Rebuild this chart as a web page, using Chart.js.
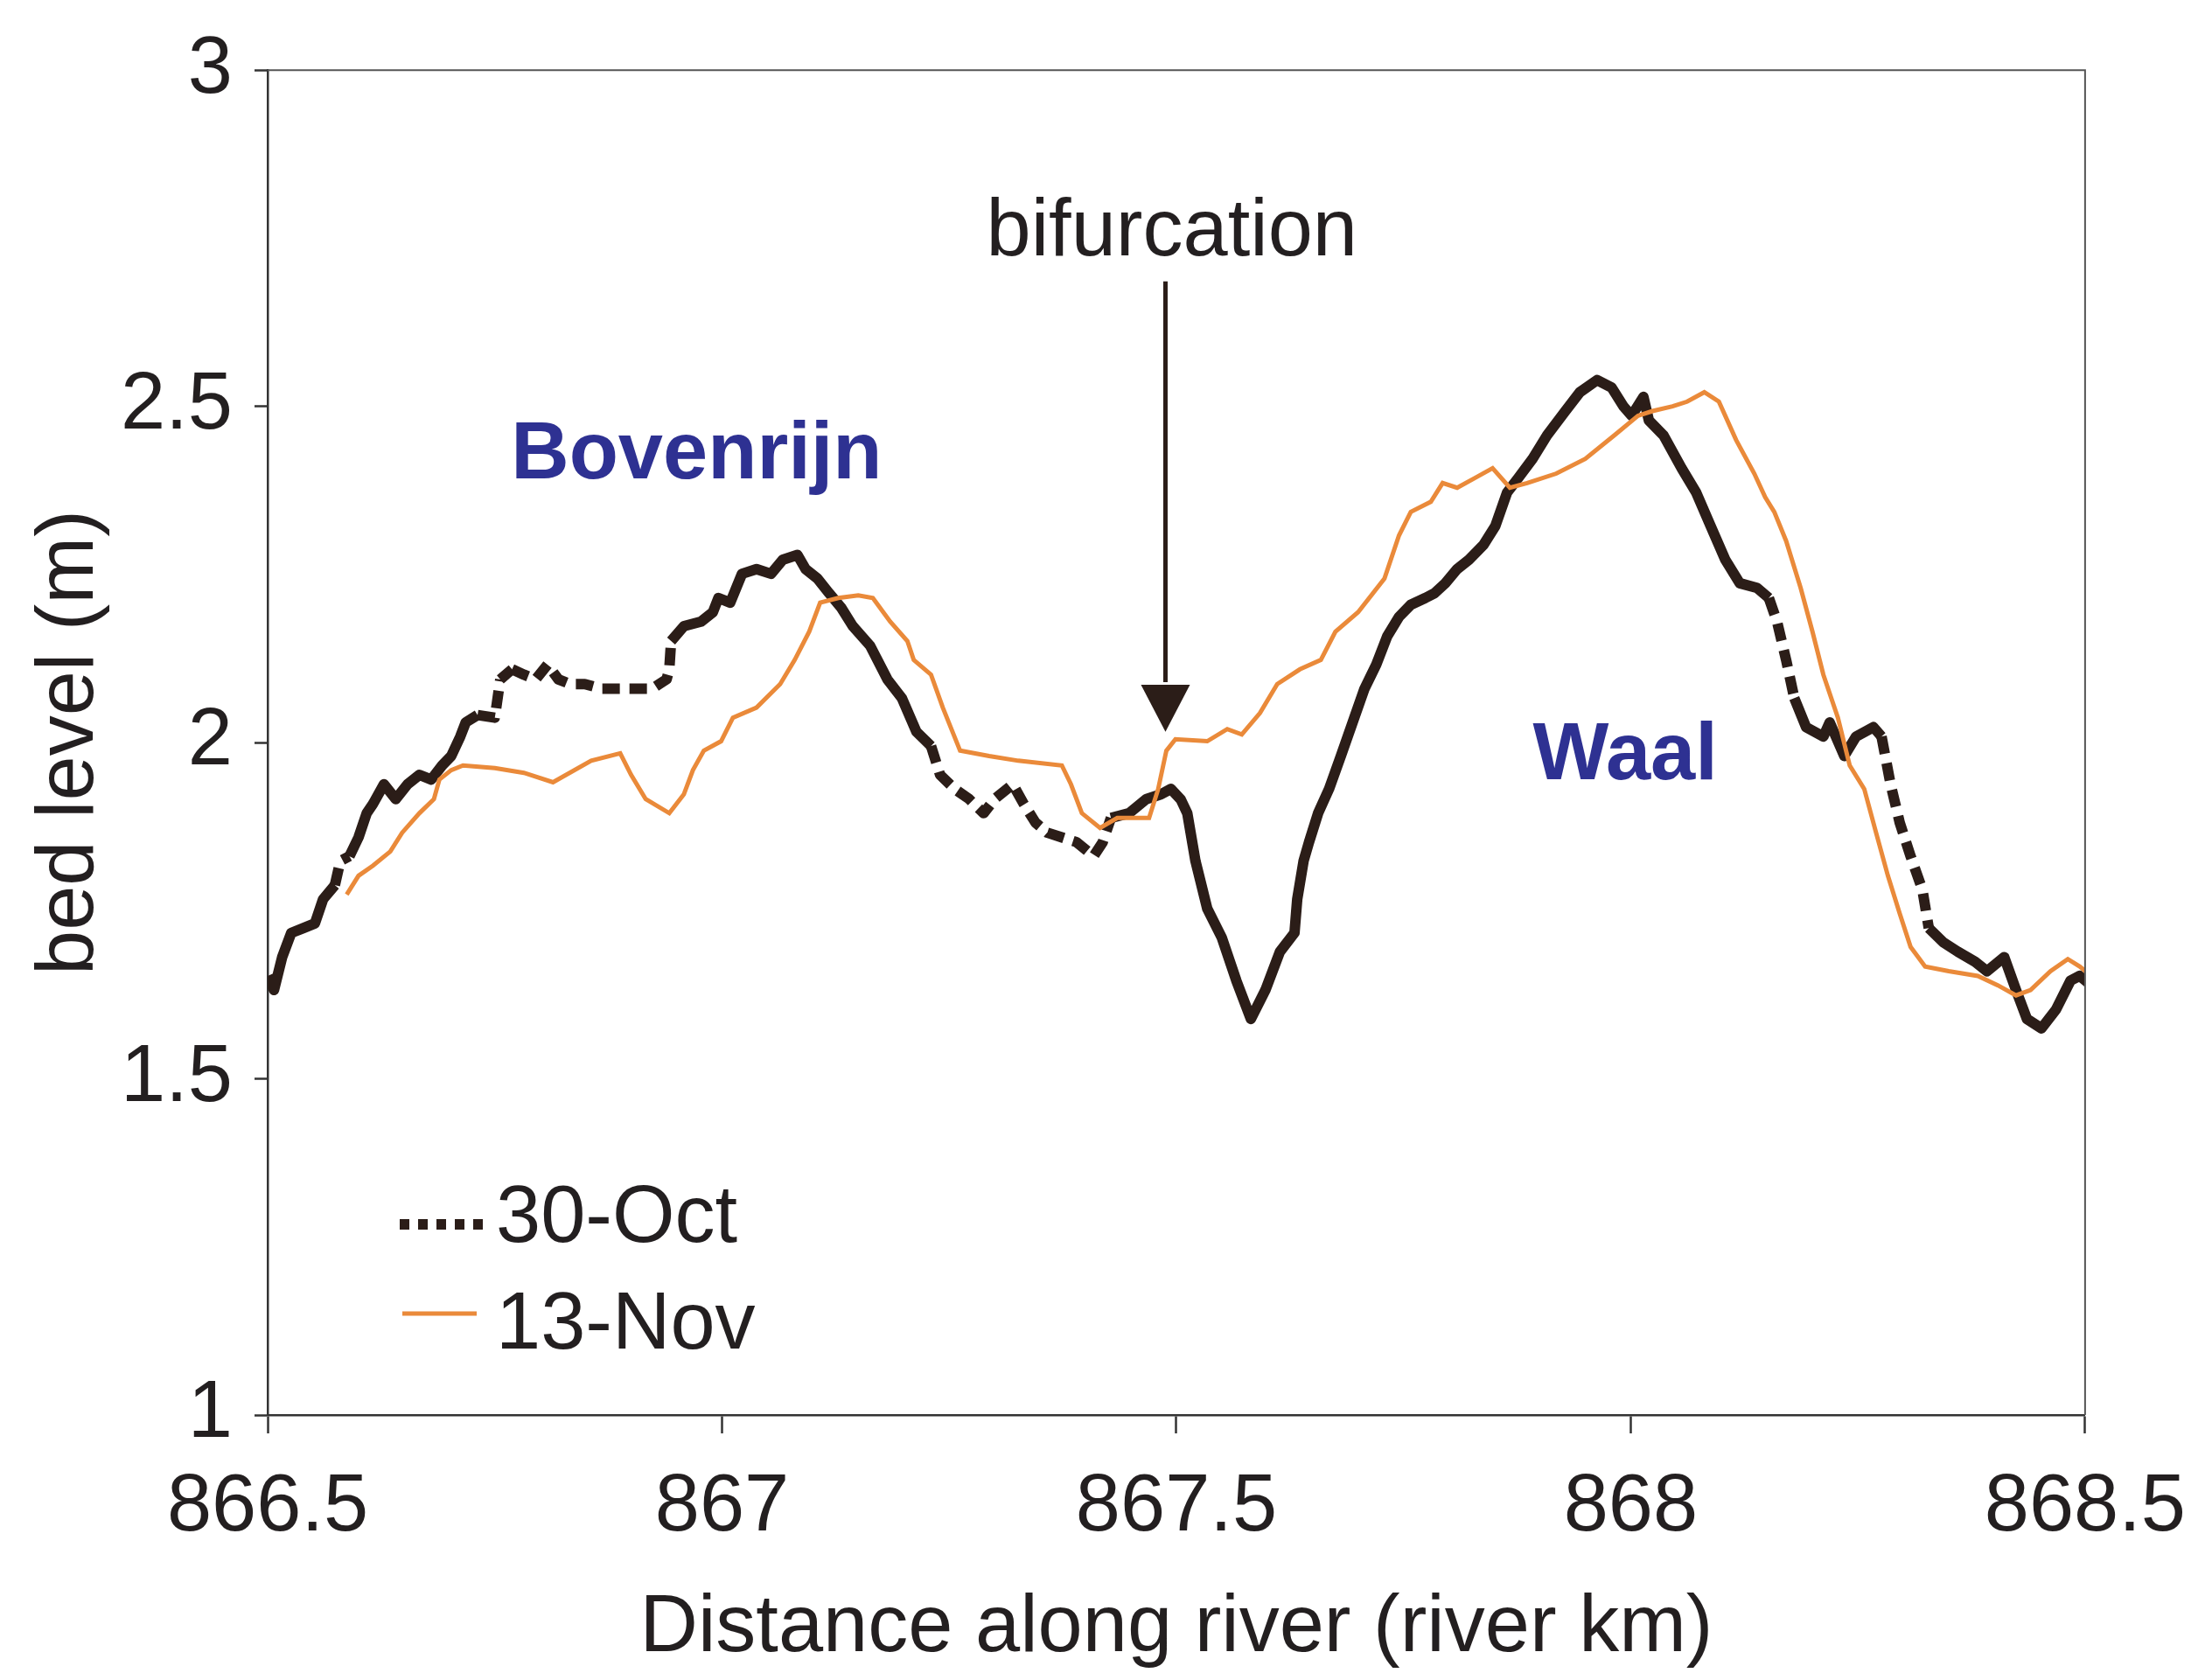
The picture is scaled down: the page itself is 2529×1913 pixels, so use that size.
<!DOCTYPE html>
<html>
<head>
<meta charset="utf-8">
<title>Bed level along the river</title>
<script src="https://cdn.jsdelivr.net/npm/chart.js@4.4.1/dist/chart.umd.min.js"></script>
<style>
  html, body { margin: 0; padding: 0; background: #fff; }
  #wrap { width: 2529px; height: 1913px; }
</style>
</head>
<body>
<div id="wrap"><canvas id="bedChart" width="2529" height="1913"></canvas></div>
<script>
// 30-Oct survey (river km, bed level in m)
const kmOct = [
    866.500, 866.507, 866.516, 866.526, 866.539, 866.552, 866.561, 866.574, 866.580, 866.590,
    866.600, 866.609, 866.616, 866.628, 866.641, 866.654, 866.667, 866.680, 866.692, 866.702,
    866.712, 866.718, 866.731, 866.750, 866.756, 866.769, 866.782, 866.795, 866.808, 866.820,
    866.833, 866.849, 866.868, 866.894, 866.923, 866.939, 866.942, 866.944, 866.958, 866.977,
    866.990, 866.996, 867.009, 867.022, 867.038, 867.054, 867.067, 867.083, 867.092, 867.105,
    867.118, 867.131, 867.144, 867.163, 867.182, 867.198, 867.214, 867.230, 867.240, 867.256,
    867.272, 867.288, 867.300, 867.320, 867.332, 867.345, 867.358, 867.374, 867.390, 867.409,
    867.419, 867.428, 867.448, 867.467, 867.483, 867.494, 867.505, 867.512, 867.521, 867.534,
    867.550, 867.566, 867.582, 867.598, 867.614, 867.630, 867.633, 867.640, 867.646, 867.656,
    867.668, 867.681, 867.694, 867.707, 867.720, 867.732, 867.745, 867.758, 867.774, 867.784,
    867.796, 867.809, 867.822, 867.838, 867.851, 867.864, 867.876, 867.892, 867.908, 867.928,
    867.944, 867.963, 867.979, 867.992, 868.001, 868.014, 868.020, 868.036, 868.056, 868.072,
    868.088, 868.104, 868.120, 868.139, 868.152, 868.161, 868.171, 868.180, 868.193, 868.212,
    868.219, 868.235, 868.248, 868.267, 868.276, 868.286, 868.296, 868.308, 868.321, 868.328,
    868.344, 868.360, 868.379, 868.392, 868.411, 868.424, 868.436, 868.452, 868.468, 868.484,
    868.494, 868.507, 868.520
];
const bedOct = [
    1.653, 1.632, 1.681, 1.717, 1.724, 1.731, 1.767, 1.788, 1.824, 1.831,
    1.859, 1.895, 1.909, 1.938, 1.916, 1.938, 1.952, 1.945, 1.966, 1.980,
    2.009, 2.030, 2.041, 2.037, 2.094, 2.109, 2.101, 2.094, 2.116, 2.094,
    2.087, 2.087, 2.080, 2.080, 2.080, 2.094, 2.109, 2.151, 2.173, 2.180,
    2.194, 2.215, 2.208, 2.251, 2.258, 2.251, 2.272, 2.279, 2.258, 2.244,
    2.222, 2.201, 2.173, 2.144, 2.094, 2.066, 2.016, 1.995, 1.952, 1.931,
    1.916, 1.895, 1.916, 1.938, 1.909, 1.881, 1.866, 1.859, 1.852, 1.831,
    1.852, 1.888, 1.895, 1.916, 1.923, 1.931, 1.915, 1.895, 1.824, 1.753,
    1.710, 1.646, 1.589, 1.632, 1.689, 1.717, 1.767, 1.824, 1.852, 1.895,
    1.931, 1.980, 2.030, 2.080, 2.116, 2.158, 2.187, 2.205, 2.215, 2.222,
    2.237, 2.258, 2.272, 2.294, 2.322, 2.372, 2.393, 2.422, 2.457, 2.493,
    2.521, 2.539, 2.528, 2.500, 2.486, 2.514, 2.479, 2.457, 2.408, 2.372,
    2.322, 2.272, 2.237, 2.230, 2.215, 2.180, 2.123, 2.066, 2.023, 2.009,
    2.030, 1.980, 2.009, 2.023, 2.009, 1.938, 1.881, 1.831, 1.781, 1.724,
    1.703, 1.689, 1.674, 1.660, 1.681, 1.632, 1.589, 1.575, 1.603, 1.646,
    1.653, 1.639, 1.646
];

// 13-Nov survey
const kmNov = [
    866.587, 866.600, 866.616, 866.635, 866.648, 866.667, 866.683, 866.689, 866.702, 866.715,
    866.750, 866.782, 866.814, 866.856, 866.888, 866.900, 866.916, 866.942, 866.958, 866.968,
    866.980, 866.999, 867.012, 867.038, 867.064, 867.080, 867.096, 867.108, 867.128, 867.150,
    867.166, 867.185, 867.204, 867.211, 867.230, 867.243, 867.262, 867.294, 867.326, 867.374,
    867.384, 867.396, 867.416, 867.435, 867.454, 867.470, 867.480, 867.489, 867.499, 867.534,
    867.556, 867.572, 867.592, 867.611, 867.636, 867.659, 867.675, 867.700, 867.729, 867.745,
    867.758, 867.780, 867.793, 867.809, 867.828, 867.848, 867.867, 867.886, 867.918, 867.950,
    867.982, 868.008, 868.024, 868.046, 868.062, 868.081, 868.097, 868.116, 868.136, 868.148,
    868.158, 868.171, 868.187, 868.200, 868.212, 868.228, 868.241, 868.257, 868.270, 868.283,
    868.296, 868.308, 868.324, 868.350, 868.382, 868.404, 868.424, 868.440, 868.462, 868.481,
    868.494, 868.513
];
const bedNov = [
    1.774, 1.802, 1.817, 1.838, 1.866, 1.895, 1.916, 1.945, 1.959, 1.966,
    1.962, 1.955, 1.941, 1.973, 1.984, 1.952, 1.916, 1.895, 1.923, 1.959,
    1.988, 2.002, 2.037, 2.052, 2.087, 2.123, 2.165, 2.208, 2.215, 2.219,
    2.215, 2.180, 2.151, 2.123, 2.101, 2.052, 1.988, 1.980, 1.973, 1.966,
    1.938, 1.895, 1.873, 1.888, 1.888, 1.888, 1.931, 1.988, 2.005, 2.002,
    2.020, 2.012, 2.044, 2.087, 2.109, 2.123, 2.165, 2.194, 2.244, 2.308,
    2.343, 2.358, 2.386, 2.379, 2.393, 2.408, 2.379, 2.386, 2.400, 2.422,
    2.457, 2.486, 2.493, 2.500, 2.507, 2.521, 2.507, 2.450, 2.400, 2.365,
    2.343, 2.300, 2.230, 2.165, 2.101, 2.037, 1.966, 1.931, 1.866, 1.802,
    1.746, 1.696, 1.667, 1.660, 1.653, 1.639, 1.624, 1.632, 1.660, 1.678,
    1.667, 1.646
];

// stretches where the 30-Oct trace shows up broken
const gapsOct = [[866.574, 866.585], [866.725, 866.76], [866.77, 866.945], [867.225, 867.425], [868.155, 868.185], [868.28, 868.335]];

const xTicks = [866.5, 867, 867.5, 868, 868.5];
const yTicks = [1, 1.5, 2, 2.5, 3];

const TEXT = '#231f20';
const DARK = '#2b1d18';
const ORANGE = '#ea8a3a';
const BLUE = '#2e3192';
const FONT = '"Liberation Sans", Arial, Helvetica, sans-serif';

function inGap(a, b) {
    const m = (a + b) / 2;
    return gapsOct.some(r => m >= r[0] && m <= r[1]);
}

// frame, labels, arrow and legend
const extras = {
    id: 'extras',
    afterDatasetsDraw(chart) {
        const { ctx, chartArea: area, scales: { x, y } } = chart;
        ctx.save();

        ctx.strokeStyle = '#555';
        ctx.lineWidth = 2;
        ctx.beginPath();
        ctx.moveTo(area.left, area.top);
        ctx.lineTo(area.right, area.top);
        ctx.lineTo(area.right, area.bottom);
        ctx.stroke();

        // bifurcation arrow
        ctx.fillStyle = TEXT;
        ctx.font = `92px ${FONT}`;
        ctx.textAlign = 'center';
        ctx.textBaseline = 'alphabetic';
        ctx.fillText('bifurcation', x.getPixelForValue(867.495), y.getPixelForValue(2.724));

        const ax = x.getPixelForValue(867.488);
        ctx.strokeStyle = DARK;
        ctx.lineWidth = 5;
        ctx.beginPath();
        ctx.moveTo(ax, y.getPixelForValue(2.686));
        ctx.lineTo(ax, y.getPixelForValue(2.09));
        ctx.stroke();
        ctx.fillStyle = DARK;
        ctx.beginPath();
        ctx.moveTo(ax - 28, y.getPixelForValue(2.086));
        ctx.lineTo(ax + 28, y.getPixelForValue(2.086));
        ctx.lineTo(ax, y.getPixelForValue(2.016));
        ctx.closePath();
        ctx.fill();

        // branch names
        ctx.fillStyle = BLUE;
        ctx.font = `bold 92px ${FONT}`;
        ctx.fillText('Bovenrijn', x.getPixelForValue(866.972), y.getPixelForValue(2.393));
        ctx.fillText('Waal', x.getPixelForValue(867.994), y.getPixelForValue(1.945));

        // legend
        ctx.lineCap = 'butt';
        ctx.strokeStyle = DARK;
        ctx.lineWidth = 12;
        ctx.setLineDash([11, 10]);
        ctx.beginPath();
        ctx.moveTo(457, 1400);
        ctx.lineTo(560, 1400);
        ctx.stroke();
        ctx.setLineDash([]);
        ctx.strokeStyle = ORANGE;
        ctx.lineWidth = 5;
        ctx.beginPath();
        ctx.moveTo(460, 1502);
        ctx.lineTo(545, 1502);
        ctx.stroke();

        ctx.fillStyle = TEXT;
        ctx.font = `92px ${FONT}`;
        ctx.textAlign = 'left';
        ctx.fillText('30-Oct', 567, 1420);
        ctx.fillText('13-Nov', 567, 1542);

        ctx.restore();
    }
};

const ctx = document.getElementById('bedChart').getContext('2d');

new Chart(ctx, {
    type: 'line',
    data: {
        datasets: [{
            label: '30-Oct',
            data: kmOct.map((km, i) => ({ x: km, y: bedOct[i] })),
            borderColor: DARK,
            borderWidth: 12,
            borderJoinStyle: 'round',
            pointRadius: 0,
            tension: 0,
            order: 2,
            segment: {
                borderDash: c => inGap(c.p0.parsed.x, c.p1.parsed.x) ? [20, 11] : undefined
            }
        }, {
            label: '13-Nov',
            data: kmNov.map((km, i) => ({ x: km, y: bedNov[i] })),
            borderColor: ORANGE,
            borderWidth: 5,
            pointRadius: 0,
            tension: 0,
            order: 1
        }]
    },
    options: {
        responsive: false,
        animation: false,
        devicePixelRatio: 1,
        layout: { padding: { left: 0, right: 139, top: 77, bottom: 0 } },
        plugins: {
            legend: { display: false },
            tooltip: { enabled: false }
        },
        scales: {
            x: {
                type: 'linear',
                min: 866.5,
                max: 868.5,
                afterBuildTicks: s => { s.ticks = xTicks.map(v => ({ value: v })); },
                afterFit: s => { s.height = 295; },
                grid: { drawOnChartArea: false, drawTicks: true, tickLength: 21, tickColor: '#333', tickWidth: 2.5 },
                border: { display: true, color: '#333', width: 2.5 },
                ticks: {
                    color: TEXT,
                    font: { family: FONT, size: 92 },
                    padding: 30,
                    maxRotation: 0,
                    autoSkip: false,
                    callback: v => String(v)
                },
                title: {
                    display: true,
                    text: 'Distance along river (river km)',
                    color: TEXT,
                    font: { family: FONT, size: 92, lineHeight: 1.1 },
                    padding: { top: 0, bottom: 0 }
                }
            },
            y: {
                type: 'linear',
                min: 1,
                max: 3,
                afterBuildTicks: s => { s.ticks = yTicks.map(v => ({ value: v })); },
                afterFit: s => { s.width = 306; },
                grid: { drawOnChartArea: false, drawTicks: true, tickLength: 15, tickColor: '#333', tickWidth: 2.5 },
                border: { display: true, color: '#333', width: 2.5 },
                ticks: {
                    color: TEXT,
                    font: { family: FONT, size: 92 },
                    padding: 25,
                    callback: v => String(v)
                },
                title: {
                    display: true,
                    text: 'bed level (m)',
                    color: TEXT,
                    font: { family: FONT, size: 92 },
                    padding: { top: 25, bottom: 0 }
                }
            }
        }
    },
    plugins: [extras]
});
</script>
</body>
</html>
